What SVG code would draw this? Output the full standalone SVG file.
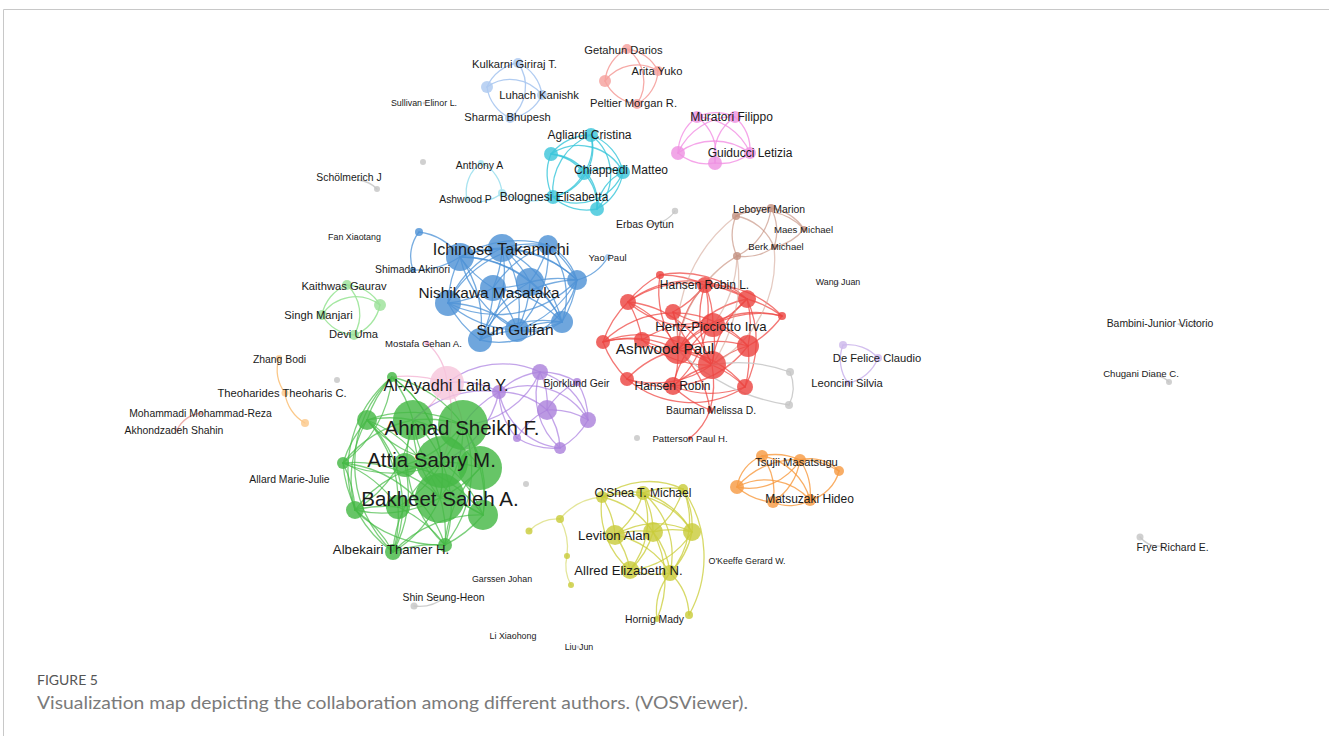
<svg xmlns="http://www.w3.org/2000/svg" width="1329" height="736" viewBox="0 0 1329 736">
<style>
text{font-family:"Liberation Sans",Arial,sans-serif;fill:#1a1a1a;text-anchor:middle;dominant-baseline:central}
circle{fill-opacity:.82}
#links path{fill:none;stroke-width:1.3;stroke-linecap:round}
.eg path{stroke:#45bb45;stroke-opacity:.7}
.eb path{stroke:#4a90d6;stroke-opacity:.75}
.er path{stroke:#ee4440;stroke-opacity:.72}
.ebr path{stroke:#c49080;stroke-opacity:.65}
.ebrl path{stroke:#d4a698;stroke-opacity:.6}
.ev path{stroke:#a97ee0;stroke-opacity:.7}
.ey path{stroke:#c9cc36;stroke-opacity:.75}
.eyl path{stroke:#dcdf80;stroke-opacity:.8}
.eo path{stroke:#f79a3e;stroke-opacity:.8}
.ec path{stroke:#37c6da;stroke-opacity:.8}
.eac path{stroke:#9fe0ee;stroke-opacity:.9}
.em path{stroke:#f28ee4;stroke-opacity:.8}
.ek path{stroke:#a9c6ef;stroke-opacity:.9}
.es path{stroke:#f5a19d;stroke-opacity:.9}
.el path{stroke:#9ae497;stroke-opacity:.9}
.ep path{stroke:#f4b6d4;stroke-opacity:.8}
.edp path{stroke:#cdb7ec;stroke-opacity:.9}
.ez path{stroke:#fbc27c;stroke-opacity:.9}
.ex path{stroke:#eaa7a4;stroke-opacity:.9}
.egr path{stroke:#c9c9c9;stroke-opacity:.9}
.ng circle{fill:#45b845}
.nb circle{fill:#4f93d5}
.nr circle{fill:#ec4642}
.nv circle{fill:#ac82dc}
.ny circle{fill:#c9cc3c}
.no circle{fill:#f79b44}
.nc circle{fill:#3ec6da}
.nm circle{fill:#ee92e2}
.nk circle{fill:#adc9f0}
.ns circle{fill:#f5a19e}
.nl circle{fill:#9ce29a}
.np circle{fill:#f6c6dc}
.nbr circle{fill:#c39282}
.ndp circle{fill:#cdb8ec}
.nz circle{fill:#fbc88a}
.nx circle{fill:#e8a8a5}
.n0 circle{fill:#c6c6c6}
.t1{font-size:20.5px}
.t2{font-size:16.2px}
.t3{font-size:15.4px}
.t4{font-size:13.2px}
.t5{font-size:12px}
.t6{font-size:11.2px}
.t7{font-size:10.4px}
.t8{font-size:9.6px}
.t9{font-size:8.9px}
.cap1{font-family:Lato,"Liberation Sans",sans-serif;font-size:14px;fill:#555;text-anchor:start;dominant-baseline:auto}
.cap2{font-family:Lato,"Liberation Sans",sans-serif;font-size:17px;fill:#7a7a7a;text-anchor:start;dominant-baseline:auto}
</style>

<rect width="1329" height="736" fill="#fff"/>
<path d="M3.5 736V9.5H1329" fill="none" stroke="#c8c8c8"/>

<g id="links">
  <g class="eg">
    <path d="M392 377A120 120 0 0 1 413 420"/><path d="M392 377A120 120 0 0 1 463 425"/>
    <path d="M392 377A120 120 0 0 1 442 462"/><path d="M392 377A120 120 0 0 1 440 498"/>
    <path d="M367 420A120 120 0 0 1 392 377"/><path d="M367 420A120 120 0 0 1 413 420"/>
    <path d="M367 420A120 120 0 0 1 463 425"/><path d="M442 462A120 120 0 0 1 367 420"/>
    <path d="M367 420A120 120 0 0 1 440 498"/><path d="M343 463A120 120 0 0 1 367 420"/>
    <path d="M367 420A120 120 0 0 1 398 507"/><path d="M413 420A120 120 0 0 1 463 425"/>
    <path d="M413 420A120 120 0 0 1 442 462"/><path d="M440 498A120 120 0 0 1 413 420"/>
    <path d="M413 420A120 120 0 0 1 480 468"/><path d="M343 463A120 120 0 0 1 413 420"/>
    <path d="M463 425A120 120 0 0 1 442 462"/><path d="M463 425A120 120 0 0 1 480 468"/>
    <path d="M463 425A120 120 0 0 1 440 498"/><path d="M463 425A120 120 0 0 1 483 515"/>
    <path d="M442 462A120 120 0 0 1 343 463"/><path d="M343 463A120 120 0 0 1 440 498"/>
    <path d="M343 463A120 120 0 0 1 355 510"/><path d="M343 463A120 120 0 0 1 398 507"/>
    <path d="M393 552A120 120 0 0 1 343 463"/><path d="M442 462A120 120 0 0 1 480 468"/>
    <path d="M442 462A120 120 0 0 1 440 498"/><path d="M355 510A120 120 0 0 1 442 462"/>
    <path d="M442 462A120 120 0 0 1 398 507"/><path d="M442 462A120 120 0 0 1 483 515"/>
    <path d="M393 552A120 120 0 0 1 442 462"/><path d="M442 462A120 120 0 0 1 445 545"/>
    <path d="M480 468A120 120 0 0 1 440 498"/><path d="M480 468A120 120 0 0 1 483 515"/>
    <path d="M445 545A120 120 0 0 1 480 468"/><path d="M440 498A120 120 0 0 1 355 510"/>
    <path d="M440 498A120 120 0 0 1 398 507"/><path d="M440 498A120 120 0 0 1 483 515"/>
    <path d="M440 498A120 120 0 0 1 393 552"/><path d="M440 498A120 120 0 0 1 445 545"/>
    <path d="M355 510A120 120 0 0 1 398 507"/><path d="M355 510A120 120 0 0 1 393 552"/>
    <path d="M445 545A120 120 0 0 1 355 510"/><path d="M398 507A120 120 0 0 1 393 552"/>
    <path d="M398 507A120 120 0 0 1 445 545"/><path d="M483 515A120 120 0 0 1 445 545"/>
    <path d="M393 552A120 120 0 0 1 483 515"/><path d="M393 552A120 120 0 0 1 445 545"/>
    <path d="M367 420A120 120 0 0 1 393 552"/><path d="M413 420A120 120 0 0 1 355 510"/>
    <path d="M392 377A120 120 0 0 1 343 463"/><path d="M355 510A120 120 0 0 1 392 377"/>
    <path d="M463 425A120 120 0 0 1 445 545"/><path d="M483 515A120 120 0 0 1 413 420"/>
    <path d="M393 552A120 120 0 0 1 392 377"/><path d="M355 510A120 120 0 0 1 367 420"/>
    <path d="M367 420A120 120 0 0 1 405 465"/><path d="M405 465A120 120 0 0 1 393 552"/>
    <path d="M405 465A120 120 0 0 1 483 515"/><path d="M463 425A120 120 0 0 1 405 465"/>
    <path d="M343 463A120 120 0 0 1 445 545"/><path d="M445 545A120 120 0 0 1 413 420"/>
  </g>
  <g class="ep">
    <path d="M427 343A60 60 0 0 1 447 383"/>
    <path d="M447 383A120 120 0 0 1 413 420"/><path d="M447 383A120 120 0 0 1 463 425"/>
    <path d="M447 383A120 120 0 0 1 442 462"/><path d="M392 377A120 120 0 0 1 447 383"/>
  </g>
  <g class="ev">
    <path d="M499 392A70 70 0 0 1 540 372"/><path d="M540 372A70 70 0 0 1 577 382"/>
    <path d="M540 372A70 70 0 0 1 547 410"/><path d="M540 372A70 70 0 0 1 588 420"/>
    <path d="M560 448A70 70 0 0 1 540 372"/><path d="M499 392A70 70 0 0 1 547 410"/>
    <path d="M499 392A70 70 0 0 1 588 420"/><path d="M560 448A70 70 0 0 1 499 392"/>
    <path d="M577 382A70 70 0 0 1 588 420"/><path d="M547 410A70 70 0 0 1 577 382"/>
    <path d="M547 410A70 70 0 0 1 588 420"/><path d="M547 410A70 70 0 0 1 560 448"/>
    <path d="M517 438A70 70 0 0 1 547 410"/><path d="M588 420A70 70 0 0 1 560 448"/>
    <path d="M560 448A70 70 0 0 1 517 438"/><path d="M517 438A70 70 0 0 1 499 392"/>
    <path d="M540 372A90 90 0 0 0 447 383"/><path d="M499 392A100 100 0 0 0 463 425"/>
    <path d="M499 392A100 100 0 0 0 413 420"/><path d="M499 392A100 100 0 0 1 442 462"/>
    <path d="M499 392A80 80 0 0 0 447 383"/><path d="M540 372A90 90 0 0 1 463 425"/>
  </g>
  <g class="eb">
    <path d="M419 232A40 40 0 0 0 413 270"/><path d="M413 270A80 80 0 0 0 460 257"/>
    <path d="M419 232A60 60 0 0 1 460 257"/>
    <path d="M460 257A110 110 0 0 1 502 248"/><path d="M460 257A110 110 0 0 1 548 245"/>
    <path d="M460 257A110 110 0 0 1 530 282"/><path d="M493 288A110 110 0 0 1 460 257"/>
    <path d="M460 257A110 110 0 0 0 448 303"/><path d="M460 257A110 110 0 0 1 577 280"/>
    <path d="M460 257A110 110 0 0 1 480 340"/><path d="M517 330A110 110 0 0 1 460 257"/>
    <path d="M460 257A110 110 0 0 1 562 322"/><path d="M502 248A110 110 0 0 1 548 245"/>
    <path d="M502 248A110 110 0 0 1 530 282"/><path d="M502 248A110 110 0 0 1 493 288"/>
    <path d="M448 303A110 110 0 0 1 502 248"/><path d="M502 248A110 110 0 0 1 577 280"/>
    <path d="M502 248A110 110 0 0 1 480 340"/><path d="M502 248A110 110 0 0 1 517 330"/>
    <path d="M502 248A110 110 0 0 1 562 322"/><path d="M548 245A110 110 0 0 1 530 282"/>
    <path d="M493 288A110 110 0 0 1 548 245"/><path d="M548 245A110 110 0 0 1 577 280"/>
    <path d="M548 245A80 80 0 0 1 562 322"/><path d="M548 245A110 110 0 0 1 517 330"/>
    <path d="M448 303A110 110 0 0 1 548 245"/><path d="M530 282A110 110 0 0 1 493 288"/>
    <path d="M530 282A110 110 0 0 1 577 280"/><path d="M530 282A110 110 0 0 1 517 330"/>
    <path d="M530 282A110 110 0 0 1 562 322"/><path d="M480 340A110 110 0 0 1 530 282"/>
    <path d="M493 288A110 110 0 0 1 448 303"/><path d="M493 288A110 110 0 0 1 480 340"/>
    <path d="M493 288A110 110 0 0 1 517 330"/><path d="M493 288A110 110 0 0 1 562 322"/>
    <path d="M448 303A110 110 0 0 0 480 340"/><path d="M448 303A110 110 0 0 1 517 330"/>
    <path d="M562 322A110 110 0 0 1 448 303"/><path d="M577 280A110 110 0 0 1 448 303"/>
    <path d="M577 280A110 110 0 0 1 562 322"/><path d="M577 280A110 110 0 0 1 517 330"/>
    <path d="M480 340A110 110 0 0 1 577 280"/><path d="M480 340A110 110 0 0 1 517 330"/>
    <path d="M480 340A110 110 0 0 1 562 322"/><path d="M517 330A110 110 0 0 1 562 322"/>
    <path d="M548 245A60 60 0 0 1 577 280"/><path d="M562 322A60 60 0 0 1 517 330"/>
    <path d="M577 280A80 80 0 0 1 480 340"/>
    <path d="M577 280A50 50 0 0 0 608 257" stroke-opacity=".45"/>
  </g>
  <g class="er">
    <path d="M678 350A100 100 0 0 1 660 275"/><path d="M678 350A100 100 0 0 1 705 285"/>
    <path d="M628 302A100 100 0 0 1 678 350"/><path d="M678 350A100 100 0 0 1 747 299"/>
    <path d="M673 312A100 100 0 0 1 678 350"/><path d="M678 350A100 100 0 0 1 782 316"/>
    <path d="M678 350A100 100 0 0 1 713 325"/><path d="M603 342A100 100 0 0 1 678 350"/>
    <path d="M678 350A100 100 0 0 1 642 340"/><path d="M678 350A100 100 0 0 1 748 346"/>
    <path d="M678 350A100 100 0 0 1 712 365"/><path d="M627 379A100 100 0 0 1 678 350"/>
    <path d="M678 350A100 100 0 0 1 673 386"/><path d="M678 350A100 100 0 0 1 745 387"/>
    <path d="M678 350A100 100 0 0 1 710 410"/>
    <path d="M712 365A100 100 0 0 1 705 285"/><path d="M628 302A100 100 0 0 1 712 365"/>
    <path d="M712 365A100 100 0 0 1 747 299"/><path d="M712 365A100 100 0 0 1 673 312"/>
    <path d="M713 325A100 100 0 0 1 712 365"/><path d="M603 342A100 100 0 0 1 712 365"/>
    <path d="M712 365A100 100 0 0 1 642 340"/><path d="M712 365A100 100 0 0 1 748 346"/>
    <path d="M712 365A100 100 0 0 1 627 379"/><path d="M673 386A100 100 0 0 1 712 365"/>
    <path d="M712 365A100 100 0 0 1 745 387"/><path d="M712 365A100 100 0 0 1 710 410"/>
    <path d="M705 285A100 100 0 0 1 713 325"/><path d="M713 325A100 100 0 0 1 628 302"/>
    <path d="M747 299A100 100 0 0 1 713 325"/><path d="M713 325A100 100 0 0 1 673 312"/>
    <path d="M713 325A100 100 0 0 1 748 346"/><path d="M673 386A100 100 0 0 1 713 325"/>
    <path d="M642 340A100 100 0 0 1 713 325"/><path d="M713 325A100 100 0 0 1 782 316"/>
    <path d="M660 275A100 100 0 0 1 705 285"/><path d="M705 285A100 100 0 0 1 747 299"/>
    <path d="M705 285A100 100 0 0 1 673 312"/><path d="M628 302A100 100 0 0 1 705 285"/>
    <path d="M705 285A100 100 0 0 1 673 386"/>
    <path d="M628 302A100 100 0 0 0 603 342"/><path d="M628 302A100 100 0 0 1 747 299"/>
    <path d="M603 342A100 100 0 0 0 627 379"/><path d="M660 275A100 100 0 0 0 628 302"/>
    <path d="M628 302A100 100 0 0 1 642 340"/>
    <path d="M747 299A100 100 0 0 1 782 316"/><path d="M747 299A100 100 0 0 1 748 346"/>
    <path d="M748 346A100 100 0 0 1 745 387"/><path d="M747 299A100 100 0 0 1 745 387"/>
    <path d="M603 342A100 100 0 0 1 642 340"/><path d="M603 342A100 100 0 0 1 748 346"/>
    <path d="M748 346A100 100 0 0 1 673 386"/><path d="M782 316A100 100 0 0 1 748 346"/>
    <path d="M627 379A100 100 0 0 0 673 386"/><path d="M673 386A100 100 0 0 0 745 387"/>
    <path d="M673 386A100 100 0 0 0 710 410"/><path d="M627 379A100 100 0 0 0 745 387"/>
    <path d="M660 275A100 100 0 0 1 747 299"/><path d="M705 285A100 100 0 0 1 782 316"/>
    <path d="M710 410A60 60 0 0 1 690 438"/>
  </g>
  <g class="ebr">
    <path d="M736 216A50 50 0 0 1 771 208"/><path d="M771 208A50 50 0 0 1 804 229"/>
    <path d="M804 229A50 50 0 0 1 774 247"/><path d="M774 247A50 50 0 0 1 737 256"/>
    <path d="M737 256A50 50 0 0 1 736 216"/><path d="M771 208A50 50 0 0 1 774 247"/>
    <path d="M736 216A50 50 0 0 1 774 247"/><path d="M736 216A60 60 0 0 1 804 229"/>
    <path d="M771 208A60 60 0 0 1 737 256"/>
  </g>
  <g class="ebrl">
    <path d="M737 256A100 100 0 0 0 705 285"/><path d="M737 256A120 120 0 0 0 678 350"/>
    <path d="M737 256A120 120 0 0 1 713 325"/><path d="M737 256A150 150 0 0 1 712 365"/>
    <path d="M736 216A150 150 0 0 0 678 350"/><path d="M774 247A120 120 0 0 1 712 365"/>
  </g>
  <g class="egr">
    <path d="M790 372A40 40 0 0 1 789 405"/>
    <path d="M712 365A150 150 0 0 1 790 372" stroke-opacity=".55"/>
    <path d="M678 350A200 200 0 0 0 789 405" stroke-opacity=".45"/>
    <path d="M648 224A30 30 0 0 0 675 211"/>
    <path d="M414 606A40 40 0 0 0 445 597"/>
    <path d="M358 180A30 30 0 0 1 377 189"/>
    <path d="M1158 376A20 20 0 0 1 1169 382"/>
    <path d="M1140 537A25 25 0 0 0 1162 546"/>
    <path d="M1178 324A20 20 0 0 0 1196 323"/>
  </g>
  <g class="eyl">
    <path d="M602 497A60 60 0 0 0 560 519"/><path d="M560 519A40 40 0 0 0 529 531"/>
    <path d="M560 519A60 60 0 0 1 567 556"/><path d="M567 556A40 40 0 0 0 571 585"/>
  </g>
  <g class="ey">
    <path d="M602 497A80 80 0 0 1 643 493"/><path d="M602 497A80 80 0 0 1 683 489"/>
    <path d="M602 497A80 80 0 0 1 615 535"/><path d="M602 497A80 80 0 0 1 653 532"/>
    <path d="M602 497A80 80 0 0 1 692 532"/><path d="M630 570A80 80 0 0 1 602 497"/>
    <path d="M643 493A80 80 0 0 1 683 489"/><path d="M643 493A80 80 0 0 1 615 535"/>
    <path d="M643 493A80 80 0 0 1 653 532"/><path d="M643 493A80 80 0 0 1 692 532"/>
    <path d="M643 493A80 80 0 0 1 630 570"/><path d="M643 493A80 80 0 0 1 670 573"/>
    <path d="M683 489A80 80 0 0 1 692 532"/><path d="M683 489A80 80 0 0 1 653 532"/>
    <path d="M683 489A80 80 0 0 1 670 573"/><path d="M615 535A80 80 0 0 1 653 532"/>
    <path d="M615 535A80 80 0 0 1 692 532"/><path d="M615 535A80 80 0 0 1 630 570"/>
    <path d="M615 535A80 80 0 0 1 670 573"/><path d="M653 532A80 80 0 0 1 692 532"/>
    <path d="M653 532A80 80 0 0 1 630 570"/><path d="M653 532A80 80 0 0 1 670 573"/>
    <path d="M692 532A80 80 0 0 1 630 570"/><path d="M692 532A80 80 0 0 1 670 573"/>
    <path d="M630 570A80 80 0 0 0 670 573"/><path d="M670 573A60 60 0 0 1 689 615"/>
    <path d="M670 573A60 60 0 0 0 657 619"/><path d="M683 489A120 120 0 0 1 689 615"/>
    <path d="M653 532A100 100 0 0 1 657 619"/>
  </g>
  <g class="eo">
    <path d="M762 456A60 60 0 0 1 800 460"/><path d="M762 456A40 40 0 0 0 737 487"/>
    <path d="M762 456A60 60 0 0 1 773 502"/><path d="M762 456A60 60 0 0 1 810 500"/>
    <path d="M800 460A40 40 0 0 1 839 471"/><path d="M800 460A60 60 0 0 1 737 487"/>
    <path d="M800 460A60 60 0 0 1 773 502"/><path d="M800 460A60 60 0 0 1 810 500"/>
    <path d="M839 471A40 40 0 0 1 810 500"/><path d="M737 487A60 60 0 0 0 773 502"/>
    <path d="M737 487A60 60 0 0 1 810 500"/><path d="M737 487A80 80 0 0 1 839 471"/>
    <path d="M773 502A40 40 0 0 0 810 500"/>
  </g>
  <g class="ec">
    <path d="M591 135A50 50 0 0 0 551 154"/><path d="M591 135A50 50 0 0 1 584 173"/>
    <path d="M591 135A50 50 0 0 1 623 172"/><path d="M591 135A50 50 0 0 1 553 197"/>
    <path d="M591 135A50 50 0 0 1 597 209"/><path d="M551 154A50 50 0 0 1 584 173"/>
    <path d="M551 154A50 50 0 0 1 623 172"/><path d="M551 154A50 50 0 0 0 553 197"/>
    <path d="M551 154A50 50 0 0 1 597 209"/><path d="M584 173A50 50 0 0 1 623 172"/>
    <path d="M584 173A50 50 0 0 1 553 197"/><path d="M584 173A50 50 0 0 1 597 209"/>
    <path d="M623 172A50 50 0 0 1 553 197"/><path d="M623 172A50 50 0 0 1 597 209"/>
    <path d="M553 197A50 50 0 0 0 597 209"/><path d="M591 135A60 60 0 0 0 553 197"/>
    <path d="M623 172A45 45 0 0 0 597 209"/>
  </g>
  <g class="eac">
    <path d="M481 163A35 35 0 0 0 467 199"/><path d="M481 163A35 35 0 0 1 502 193"/>
    <path d="M467 199A35 35 0 0 0 502 193"/><path d="M502 193A60 60 0 0 0 553 197"/>
  </g>
  <g class="em">
    <path d="M697 117A45 45 0 0 1 735 117"/><path d="M697 117A45 45 0 0 0 678 153"/>
    <path d="M697 117A45 45 0 0 1 715 163"/><path d="M697 117A60 60 0 0 1 750 153"/>
    <path d="M735 117A45 45 0 0 1 750 153"/><path d="M735 117A60 60 0 0 0 678 153"/>
    <path d="M735 117A45 45 0 0 0 715 163"/><path d="M678 153A45 45 0 0 0 715 163"/>
    <path d="M678 153A60 60 0 0 1 750 153"/><path d="M715 163A45 45 0 0 0 750 153"/>
  </g>
  <g class="ek">
    <path d="M518 63A40 40 0 0 0 487 87"/><path d="M518 63A40 40 0 0 1 542 95"/>
    <path d="M518 63A40 40 0 0 1 510 118"/><path d="M487 87A40 40 0 0 1 542 95"/>
    <path d="M487 87A40 40 0 0 0 510 118"/><path d="M542 95A40 40 0 0 1 510 118"/>
  </g>
  <g class="es">
    <path d="M627 49A40 40 0 0 0 605 81"/><path d="M627 49A40 40 0 0 1 658 71"/>
    <path d="M627 49A40 40 0 0 1 637 104"/><path d="M605 81A40 40 0 0 0 637 104"/>
    <path d="M605 81A40 40 0 0 1 658 71"/><path d="M658 71A40 40 0 0 1 637 104"/>
  </g>
  <g class="el">
    <path d="M347 285A40 40 0 0 0 322 315"/><path d="M347 285A40 40 0 0 1 380 305"/>
    <path d="M347 285A40 40 0 0 1 354 335"/><path d="M322 315A40 40 0 0 0 354 335"/>
    <path d="M322 315A40 40 0 0 1 380 305"/><path d="M380 305A40 40 0 0 1 354 335"/>
  </g>
  <g class="edp">
    <path d="M843 345A40 40 0 0 1 878 358"/><path d="M878 358A40 40 0 0 1 848 383"/>
    <path d="M843 345A40 40 0 0 0 848 383"/>
  </g>
  <g class="ez">
    <path d="M279 358A40 40 0 0 0 285 393"/><path d="M285 393A40 40 0 0 0 305 423"/>
  </g>
  <g class="ex">
    <path d="M201 413A30 30 0 0 0 177 430"/>
  </g>
</g>

<!-- unlabelled nodes -->
<g id="node-green-01" class="ng"><circle cx="392" cy="377" r="5"/></g>
<g id="node-green-02" class="ng"><circle cx="367" cy="420" r="10"/></g>
<g id="node-green-03" class="ng"><circle cx="413" cy="420" r="20"/></g>
<g id="node-green-05" class="ng"><circle cx="343" cy="463" r="6"/></g>
<g id="node-green-07" class="ng"><circle cx="480" cy="468" r="22"/></g>
<g id="node-green-09" class="ng"><circle cx="355" cy="510" r="9"/></g>
<g id="node-green-10" class="ng"><circle cx="398" cy="507" r="12"/></g>
<g id="node-green-11" class="ng"><circle cx="483" cy="515" r="15"/></g>
<g id="node-green-13" class="ng"><circle cx="445" cy="545" r="7"/></g>
<g id="node-green-14" class="ng"><circle cx="405" cy="465" r="12"/></g>
<g id="node-blue-01" class="nb"><circle cx="419" cy="232" r="4"/></g>
<g id="node-blue-02" class="nb"><circle cx="460" cy="257" r="14"/></g>
<g id="node-blue-04" class="nb"><circle cx="548" cy="245" r="10"/></g>
<g id="node-blue-06" class="nb"><circle cx="530" cy="282" r="14"/></g>
<g id="node-blue-08" class="nb"><circle cx="448" cy="303" r="13"/></g>
<g id="node-blue-09" class="nb"><circle cx="577" cy="280" r="10"/></g>
<g id="node-blue-10" class="nb"><circle cx="480" cy="340" r="12"/></g>
<g id="node-blue-12" class="nb"><circle cx="562" cy="322" r="11"/></g>
<g id="node-red-01" class="nr"><circle cx="660" cy="275" r="4"/></g>
<g id="node-red-03" class="nr"><circle cx="628" cy="302" r="8"/></g>
<g id="node-red-04" class="nr"><circle cx="747" cy="299" r="9"/></g>
<g id="node-red-05" class="nr"><circle cx="673" cy="312" r="8"/></g>
<g id="node-red-06" class="nr"><circle cx="782" cy="316" r="4"/></g>
<g id="node-red-08" class="nr"><circle cx="603" cy="342" r="7"/></g>
<g id="node-red-09" class="nr"><circle cx="642" cy="340" r="8"/></g>
<g id="node-red-10" class="nr"><circle cx="748" cy="346" r="11"/></g>
<g id="node-red-12" class="nr"><circle cx="712" cy="365" r="14"/></g>
<g id="node-red-13" class="nr"><circle cx="627" cy="379" r="7"/></g>
<g id="node-red-15" class="nr"><circle cx="745" cy="387" r="8"/></g>
<g id="node-brown-01" class="nbr"><circle cx="736" cy="216" r="4"/></g>
<g id="node-brown-05" class="nbr"><circle cx="737" cy="256" r="4"/></g>
<g id="node-purple-01" class="nv"><circle cx="540" cy="372" r="8"/></g>
<g id="node-purple-02" class="nv"><circle cx="499" cy="392" r="7"/></g>
<g id="node-purple-04" class="nv"><circle cx="547" cy="410" r="10"/></g>
<g id="node-purple-05" class="nv"><circle cx="588" cy="420" r="8"/></g>
<g id="node-purple-06" class="nv"><circle cx="517" cy="438" r="4"/></g>
<g id="node-purple-07" class="nv"><circle cx="560" cy="448" r="6"/></g>
<g id="node-yellow-01" class="ny"><circle cx="602" cy="497" r="6"/></g>
<g id="node-yellow-03" class="ny"><circle cx="683" cy="489" r="5"/></g>
<g id="node-yellow-04" class="ny"><circle cx="560" cy="519" r="4" fill-opacity=".6"/></g>
<g id="node-yellow-05" class="ny"><circle cx="529" cy="531" r="3.5" fill-opacity=".6"/></g>
<g id="node-yellow-07" class="ny"><circle cx="653" cy="532" r="10"/></g>
<g id="node-yellow-08" class="ny"><circle cx="692" cy="532" r="9"/></g>
<g id="node-yellow-09" class="ny"><circle cx="567" cy="556" r="3" fill-opacity=".6"/></g>
<g id="node-yellow-11" class="ny"><circle cx="670" cy="573" r="8"/></g>
<g id="node-yellow-12" class="ny"><circle cx="571" cy="585" r="3" fill-opacity=".6"/></g>
<g id="node-yellow-14" class="ny"><circle cx="689" cy="615" r="4"/></g>
<g id="node-orange-01" class="no"><circle cx="762" cy="456" r="6"/></g>
<g id="node-orange-03" class="no"><circle cx="839" cy="471" r="5"/></g>
<g id="node-orange-04" class="no"><circle cx="737" cy="487" r="7"/></g>
<g id="node-orange-05" class="no"><circle cx="773" cy="502" r="6"/></g>
<g id="node-cyan-02" class="nc"><circle cx="551" cy="154" r="7"/></g>
<g id="node-cyan-03" class="nc"><circle cx="584" cy="173" r="7"/></g>
<g id="node-cyan-06" class="nc"><circle cx="597" cy="209" r="7"/></g>
<g id="node-magenta-01" class="nm"><circle cx="697" cy="117" r="6"/></g>
<g id="node-magenta-03" class="nm"><circle cx="678" cy="153" r="7"/></g>
<g id="node-magenta-04" class="nm"><circle cx="715" cy="163" r="7"/></g>
<g id="node-lightblue-02" class="nk"><circle cx="487" cy="87" r="6"/></g>
<g id="node-salmon-02" class="ns"><circle cx="605" cy="81" r="6"/></g>
<g id="node-lightgreen-02" class="nl"><circle cx="380" cy="305" r="6"/></g>
<g id="node-aqua-03" class="nc"><circle cx="502" cy="193" r="4" style="fill:#a6e3ef"/></g>
<g id="node-amber-03" class="nz"><circle cx="305" cy="423" r="4"/></g>
<g id="node-lilac-01" class="ndp"><circle cx="843" cy="345" r="4"/></g>
<g id="node-grey-01" class="n0"><circle cx="423" cy="162" r="3"/></g>
<g id="node-grey-02" class="n0"><circle cx="337" cy="380" r="3"/></g>
<g id="node-grey-03" class="n0"><circle cx="526" cy="484" r="3"/></g>
<g id="node-grey-04" class="n0"><circle cx="637" cy="438" r="3"/></g>
<g id="node-grey-05" class="n0"><circle cx="790" cy="372" r="4"/></g>
<g id="node-grey-06" class="n0"><circle cx="789" cy="405" r="4"/></g>
<g id="node-grey-07" class="n0"><circle cx="377" cy="189" r="3"/></g>
<g id="node-grey-08" class="n0"><circle cx="675" cy="211" r="3.2"/></g>
<g id="node-grey-09" class="n0"><circle cx="414" cy="606" r="3.5"/></g>
<g id="node-grey-10" class="n0"><circle cx="1169" cy="382" r="3"/></g>
<g id="node-grey-11" class="n0"><circle cx="1140" cy="537" r="3.5"/></g>
<g id="node-grey-12" class="n0"><circle cx="1196" cy="323" r="1.5"/></g>

<!-- labelled nodes -->
<g id="n-sullivan-elinor-l" class="n0"><circle cx="424" cy="103" r="1.5"/><text class="t9" x="424" y="103">Sullivan Elinor L.</text></g>
<g id="n-fan-xiaotang" class="n0"><circle cx="355" cy="237" r="1.2"/><text class="t9" x="354.5" y="237">Fan Xiaotang</text></g>
<g id="n-wang-juan" class="n0"><circle cx="838" cy="283" r="1.5"/><text class="t9" x="838" y="282">Wang Juan</text></g>
<g id="n-garssen-johan" class="n0"><circle cx="502" cy="579" r="1.2"/><text class="t9" x="502" y="579">Garssen Johan</text></g>
<g id="n-li-xiaohong" class="n0"><circle cx="513" cy="636" r="1.2"/><text class="t9" x="513" y="636">Li Xiaohong</text></g>
<g id="n-liu-jun" class="n0"><circle cx="578" cy="647" r="1.5"/><text class="t9" x="579" y="647">Liu Jun</text></g>
<g id="n-okeeffe-gerard-w" class="n0"><circle cx="747" cy="561" r="1.2"/><text class="t9" x="747" y="561">O'Keeffe Gerard W.</text></g>
<g id="n-scholmerich-j" class="n0"><circle cx="358" cy="180" r="1.2"/><text class="t7" x="349" y="177">Schölmerich J</text></g>
<g id="n-erbas-oytun" class="n0"><circle cx="648" cy="224" r="1.5"/><text class="t7" x="645" y="224">Erbas Oytun</text></g>
<g id="n-allard-marie-julie" class="n0"><circle cx="290" cy="479" r="1.5"/><text class="t7" x="289.5" y="479">Allard Marie-Julie</text></g>
<g id="n-shin-seung-heon" class="n0"><circle cx="445" cy="597" r="1.5"/><text class="t7" x="443.5" y="597">Shin Seung-Heon</text></g>
<g id="n-bambini-junior-victorio" class="n0"><circle cx="1180" cy="324" r="1.5"/><text class="t7" x="1160" y="323">Bambini-Junior Victorio</text></g>
<g id="n-chugani-diane-c" class="n0"><circle cx="1158" cy="376" r="1.5"/><text class="t8" x="1141" y="373">Chugani Diane C.</text></g>
<g id="n-frye-richard-e" class="n0"><circle cx="1162" cy="546" r="1.5"/><text class="t7" x="1172.5" y="547">Frye Richard E.</text></g>
<g id="n-mostafa-gehan-a" class="np"><circle cx="427" cy="343" r="2.5" style="fill:#f2a6cc"/><text class="t8" x="423.5" y="343">Mostafa Gehan A.</text></g>
<g id="n-mohammadi-mohammad-reza" class="nx"><circle cx="201" cy="413" r="2"/><text class="t7" x="200.5" y="413">Mohammadi Mohammad-Reza</text></g>
<g id="n-akhondzadeh-shahin" class="nx"><circle cx="177" cy="430" r="2"/><text class="t7" x="174" y="430">Akhondzadeh Shahin</text></g>
<g id="n-zhang-bodi" class="nz"><circle cx="279" cy="358" r="3"/><text class="t7" x="279.5" y="359">Zhang Bodi</text></g>
<g id="n-theoharides-theoharis-c" class="nz"><circle cx="285" cy="393" r="3.5"/><text class="t6" x="282" y="393">Theoharides Theoharis C.</text></g>
<g id="n-anthony-a" class="nc"><circle cx="481" cy="163" r="3" style="fill:#a6e3ef"/><text class="t7" x="479.5" y="165">Anthony A</text></g>
<g id="n-ashwood-p" class="nc"><circle cx="467" cy="199" r="3" style="fill:#a6e3ef"/><text class="t7" x="465.5" y="199">Ashwood P</text></g>
<g id="n-shimada-akinori" class="nb"><circle cx="413" cy="270" r="3"/><text class="t7" x="412.5" y="269">Shimada Akinori</text></g>
<g id="n-yao-paul" class="nb"><circle cx="608" cy="257" r="3" style="fill:#9cc4ee"/><text class="t8" x="607.5" y="257">Yao Paul</text></g>
<g id="n-leboyer-marion" class="nbr"><circle cx="771" cy="208" r="4"/><text class="t7" x="769" y="209">Leboyer Marion</text></g>
<g id="n-maes-michael" class="nbr"><circle cx="804" cy="229" r="3"/><text class="t8" x="803.5" y="229">Maes Michael</text></g>
<g id="n-berk-michael" class="nbr"><circle cx="774" cy="247" r="3"/><text class="t8" x="776" y="246">Berk Michael</text></g>
<g id="n-bauman-melissa-d" class="nr"><circle cx="710" cy="410" r="3"/><text class="t7" x="711" y="410">Bauman Melissa D.</text></g>
<g id="n-patterson-paul-h" class="nr"><circle cx="690" cy="438" r="2"/><text class="t8" x="690" y="438">Patterson Paul H.</text></g>
<g id="n-bjorklund-geir" class="nv"><circle cx="577" cy="382" r="4"/><text class="t7" x="576.5" y="383">Bjorklund Geir</text></g>
<g id="n-hornig-mady" class="ny"><circle cx="657" cy="619" r="3"/><text class="t7" x="654.5" y="619">Hornig Mady</text></g>
<g id="n-de-felice-claudio" class="ndp"><circle cx="878" cy="358" r="4"/><text class="t6" x="877" y="358">De Felice Claudio</text></g>
<g id="n-leoncini-silvia" class="ndp"><circle cx="848" cy="383" r="3"/><text class="t6" x="847" y="383">Leoncini Silvia</text></g>
<g id="n-kulkarni-giriraj-t" class="nk"><circle cx="518" cy="63" r="5"/><text class="t6" x="514.5" y="64">Kulkarni Giriraj T.</text></g>
<g id="n-luhach-kanishk" class="nk"><circle cx="542" cy="95" r="5"/><text class="t6" x="539" y="95">Luhach Kanishk</text></g>
<g id="n-sharma-bhupesh" class="nk"><circle cx="510" cy="118" r="5"/><text class="t6" x="507.5" y="117">Sharma Bhupesh</text></g>
<g id="n-getahun-darios" class="ns"><circle cx="627" cy="49" r="5"/><text class="t6" x="623.5" y="50">Getahun Darios</text></g>
<g id="n-arita-yuko" class="ns"><circle cx="658" cy="71" r="5"/><text class="t6" x="657" y="71">Arita Yuko</text></g>
<g id="n-peltier-morgan-r" class="ns"><circle cx="637" cy="104" r="5"/><text class="t6" x="633.5" y="103">Peltier Morgan R.</text></g>
<g id="n-kaithwas-gaurav" class="nl"><circle cx="347" cy="285" r="5"/><text class="t6" x="344" y="286">Kaithwas Gaurav</text></g>
<g id="n-singh-manjari" class="nl"><circle cx="322" cy="315" r="5"/><text class="t6" x="318.5" y="315">Singh Manjari</text></g>
<g id="n-devi-uma" class="nl"><circle cx="354" cy="335" r="5"/><text class="t6" x="353.5" y="334">Devi Uma</text></g>
<g id="n-tsujii-masatsugu" class="no"><circle cx="800" cy="460" r="6"/><text class="t6" x="796.5" y="462">Tsujii Masatsugu</text></g>
<g id="n-matsuzaki-hideo" class="no"><circle cx="810" cy="500" r="6"/><text class="t5" x="809.5" y="499">Matsuzaki Hideo</text></g>
<g id="n-agliardi-cristina" class="nc"><circle cx="591" cy="135" r="7"/><text class="t5" x="589.5" y="135">Agliardi Cristina</text></g>
<g id="n-chiappedi-matteo" class="nc"><circle cx="623" cy="172" r="7"/><text class="t5" x="621" y="170">Chiappedi Matteo</text></g>
<g id="n-bolognesi-elisabetta" class="nc"><circle cx="553" cy="197" r="7"/><text class="t5" x="554" y="197">Bolognesi Elisabetta</text></g>
<g id="n-muratori-filippo" class="nm"><circle cx="735" cy="117" r="6"/><text class="t5" x="731.5" y="117">Muratori Filippo</text></g>
<g id="n-guiducci-letizia" class="nm"><circle cx="750" cy="153" r="6"/><text class="t5" x="750" y="153">Guiducci Letizia</text></g>
<g id="n-oshea-t-michael" class="ny"><circle cx="643" cy="493" r="7"/><text class="t5" x="643" y="493">O'Shea T. Michael</text></g>
<g id="n-leviton-alan" class="ny"><circle cx="615" cy="535" r="10"/><text class="t4" x="614" y="535">Leviton Alan</text></g>
<g id="n-allred-elizabeth-n" class="ny"><circle cx="630" cy="570" r="9"/><text class="t4" x="628.5" y="570">Allred Elizabeth N.</text></g>
<g id="n-hansen-robin-l" class="nr"><circle cx="705" cy="285" r="8"/><text class="t5" x="704.5" y="285">Hansen Robin L.</text></g>
<g id="n-hansen-robin" class="nr"><circle cx="673" cy="386" r="9"/><text class="t5" x="672.5" y="386">Hansen Robin</text></g>
<g id="n-hertz-picciotto-irva" class="nr"><circle cx="713" cy="325" r="12"/><text class="t4" x="711" y="326">Hertz-Picciotto Irva</text></g>
<g id="n-ashwood-paul" class="nr"><circle cx="678" cy="350" r="14"/><text class="t3" x="665" y="348">Ashwood Paul</text></g>
<g id="n-albekairi-thamer-h" class="ng"><circle cx="393" cy="552" r="8"/><text class="t4" x="391" y="549">Albekairi Thamer H.</text></g>
<g id="n-sun-guifan" class="nb"><circle cx="517" cy="330" r="12"/><text class="t3" x="515" y="329">Sun Guifan</text></g>
<g id="n-nishikawa-masataka" class="nb"><circle cx="493" cy="288" r="13"/><text class="t3" x="489" y="292">Nishikawa Masataka</text></g>
<g id="n-ichinose-takamichi" class="nb"><circle cx="502" cy="248" r="14"/><text class="t2" x="501" y="249">Ichinose Takamichi</text></g>
<g id="n-al-ayadhi-laila-y" class="np"><circle cx="447" cy="383" r="17"/><text class="t2" x="446" y="385">Al-Ayadhi Laila Y.</text></g>
<g id="n-bakheet-saleh-a" class="ng"><circle cx="440" cy="498" r="25"/><text class="t1" x="440" y="498">Bakheet Saleh A.</text></g>
<g id="n-attia-sabry-m" class="ng"><circle cx="442" cy="462" r="26"/><text class="t1" x="431.5" y="459">Attia Sabry M.</text></g>
<g id="n-ahmad-sheikh-f" class="ng"><circle cx="463" cy="425" r="25"/><text class="t1" x="462" y="427">Ahmad Sheikh F.</text></g>

<text class="cap1" x="37" y="685">FIGURE 5</text>
<text class="cap2" x="37" y="709" textLength="711" lengthAdjust="spacingAndGlyphs">Visualization map depicting the collaboration among different authors. (VOSViewer).</text>
</svg>
